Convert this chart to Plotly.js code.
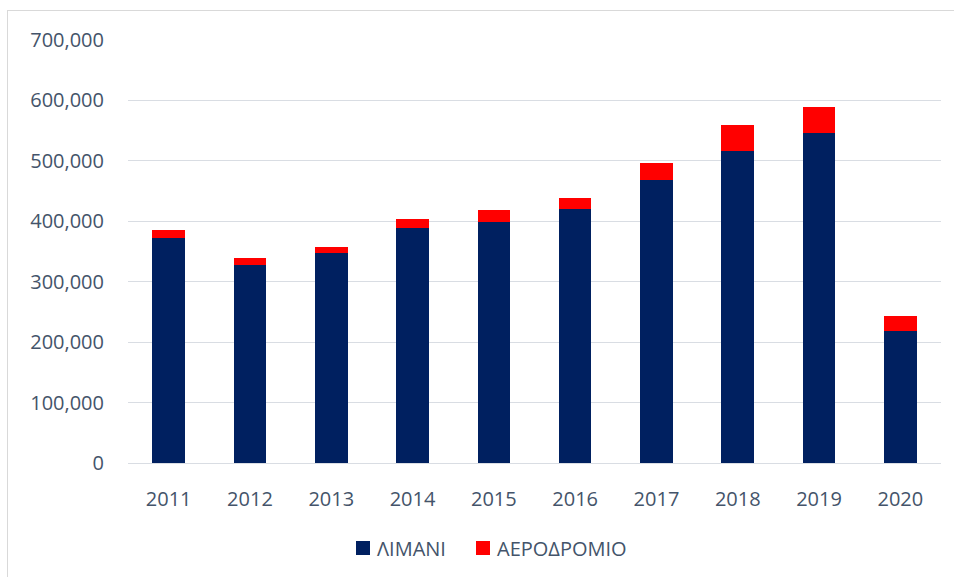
<!DOCTYPE html>
<html>
<head>
<meta charset="utf-8">
<script src="https://cdn.plot.ly/plotly-3.0.1.min.js"></script>
<style>
  html, body { margin: 0; padding: 0; background: #fff; }
  #frame { position: absolute; left: 7px; top: 10px; width: 960px; height: 580px; border: 1px solid #d9d9d9; box-sizing: border-box; }
  #chart { position: absolute; left: 0; top: 0; width: 954px; height: 577px; }
</style>
</head>
<body>
<div id="frame"></div>
<div id="chart"></div>
<script>
const years = ['2011','2012','2013','2014','2015','2016','2017','2018','2019','2020'];
const port = [373000, 327000, 347500, 389500, 399500, 420500, 468500, 517000, 545500, 218500];
const airport = [12500, 11500, 10000, 14500, 19500, 17500, 28000, 42000, 44000, 25000];
const yTicks = [0, 100000, 200000, 300000, 400000, 500000, 600000, 700000];
const seriesNames = ['ΛΙΜΑΝΙ', 'ΑΕΡΟΔΡΟΜΙΟ'];
const seriesColors = ['#002060', '#FF0000'];

const textColor = '#44546A';
const font = { family: 'Open Sans, sans-serif', size: 20, color: textColor };

const traces = [
  { type: 'bar', name: seriesNames[0], x: years, y: port, marker: { color: seriesColors[0] }, hoverinfo: 'skip' },
  { type: 'bar', name: seriesNames[1], x: years, y: airport, marker: { color: seriesColors[1] }, hoverinfo: 'skip' }
];

// custom legend (larger squares than Plotly's default)
const W = 954, H = 577, ml = 128, mr = 13, mt = 40, mb = 114;
const pw = W - ml - mr, ph = H - mt - mb;
const px = v => (v - ml) / pw;
const py = v => (H - mb - v) / ph;
const legendItems = [{ sq: 356, tx: 375 }, { sq: 476, tx: 495 }];
const shapes = [], annotations = [];
legendItems.forEach((it, i) => {
  shapes.push({ type: 'rect', xref: 'paper', yref: 'paper', x0: px(it.sq), x1: px(it.sq + 14), y0: py(555), y1: py(541), fillcolor: seriesColors[i], line: { width: 0 } });
  annotations.push({ xref: 'paper', yref: 'paper', x: px(it.tx), y: py(548), xanchor: 'left', yanchor: 'middle', text: seriesNames[i], showarrow: false, font: font });
});

const layout = {
  width: W, height: H,
  paper_bgcolor: 'rgba(0,0,0,0)', plot_bgcolor: 'rgba(0,0,0,0)',
  barmode: 'stack', bargap: 0.6,
  margin: { l: ml, r: mr, t: mt, b: mb },
  font: font,
  showlegend: false,
  shapes: shapes,
  annotations: annotations,
  xaxis: { type: 'category', showgrid: false, showline: true, linecolor: '#d9dde3', linewidth: 1, ticks: '', tickfont: font, ticklabelstandoff: 18 },
  yaxis: { range: [0, 700000], tickvals: yTicks, ticktext: yTicks.map(v => v.toLocaleString('en-US')), showgrid: true, gridcolor: '#d9dde3', gridwidth: 1, zeroline: false, showline: false, tickfont: font, ticks: '', ticklabelstandoff: 23 }
};

Plotly.newPlot('chart', traces, layout, { staticPlot: true, displayModeBar: false });
</script>
</body>
</html>
